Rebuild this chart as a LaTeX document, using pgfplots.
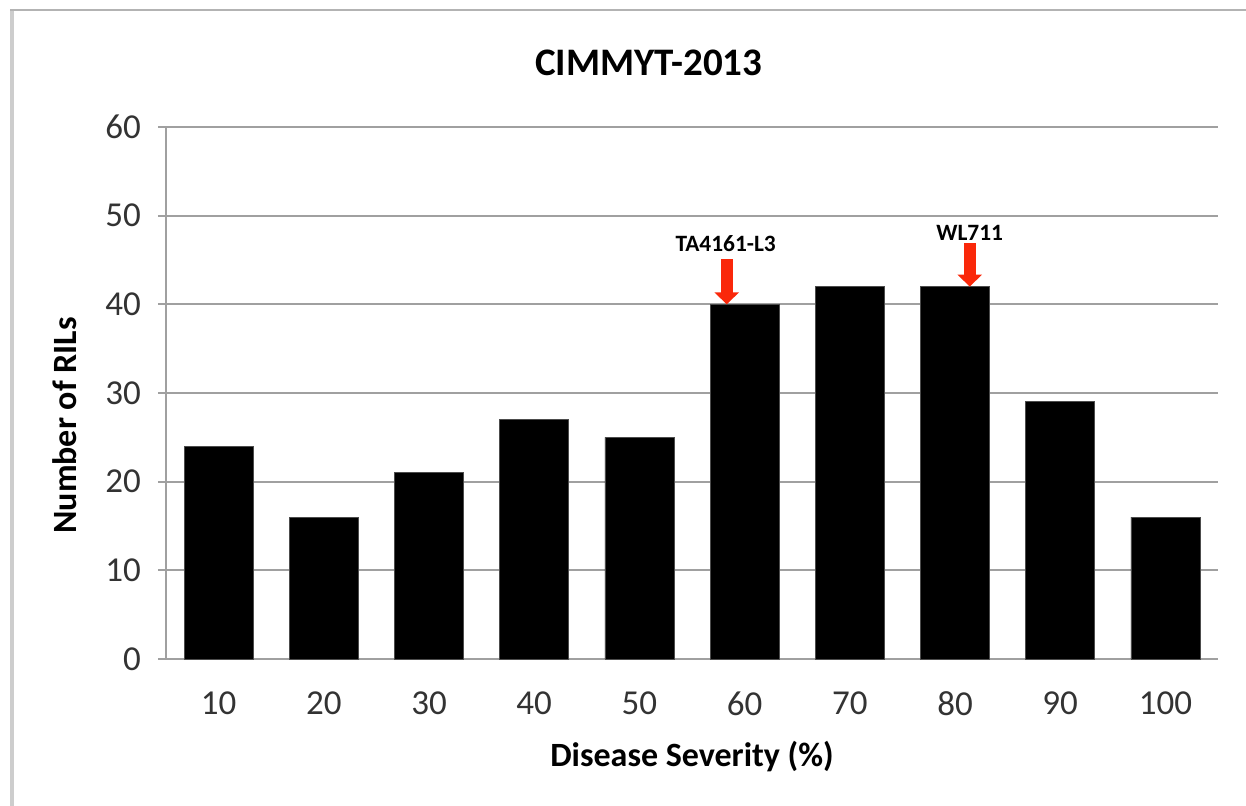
\documentclass[border=0pt]{standalone}
\usepackage{fontspec}
\setmainfont{Carlito}
\usepackage{pgfplots}
\pgfplotsset{compat=1.18}
\usetikzlibrary{arrows.meta}

\definecolor{gridgray}{RGB}{160,160,160}
\definecolor{framegray}{RGB}{205,205,205}
\definecolor{arrowred}{RGB}{250,40,10}

\begin{document}
\begin{tikzpicture}
\useasboundingbox (0,0) rectangle (623pt,403pt);
% outer frame (left and top edges only)
\draw[framegray, line width=2pt] (6pt,0) -- (6pt,398pt);
\draw[gridgray!80, line width=1.2pt] (5pt,398pt) -- (623pt,398pt);

\begin{axis}[
    at={(83pt,73.5pt)}, anchor=south west,
    scale only axis,
    width=526pt, height=266pt,
    xmin=0.5, xmax=10.5,
    ymin=0, ymax=60,
    axis x line*=bottom, axis y line*=left,
    axis line style={gridgray, line width=1pt},
    ybar, bar width=34.5pt,
    xtick={1,...,10},
    xticklabels={10,20,30,40,50,60,70,80,90,100},
    xtick style={draw=none},
    minor xtick={0.5,1.5,...,10.5},
    ytick={0,10,...,60},
    tick align=outside,
    major tick length=4pt, minor tick length=4pt,
    tick style={gridgray, line width=1pt},
    ymajorgrids,
    grid style={gridgray, line width=1pt},
    /pgf/number format/assume math mode=true,
    tick label style={font=\fontsize{17.5}{20}\selectfont, text=black!80},
    yticklabel style={xshift=-5pt},
    xticklabel style={yshift=-9pt},
    title={CIMMYT-2013},
    title style={font=\fontsize{19.5}{22}\selectfont\bfseries, anchor=base,
        at={(axis description cs:0.459,1.075)}},
    xlabel={Disease Severity (\%)},
    xlabel style={font=\fontsize{17}{20}\selectfont\bfseries, anchor=base,
        at={(axis description cs:0.500,-0.203)}},
    ylabel={Number of RILs},
    ylabel style={font=\fontsize{17}{20}\selectfont\bfseries, anchor=center,
        at={(axis description cs:-0.096,0.439)}},
    clip=false,
]
\addplot[fill=black, draw=black!70] coordinates {
(1,24) (2,16) (3,21) (4,27) (5,25) (6,40) (7,42) (8,42) (9,29) (10,16)
};
\draw[arrowred, line width=6pt, -{Triangle[width=12pt,length=6pt]}]
  (axis cs:5.83,45.1) -- (axis cs:5.83,40.0);
\draw[arrowred, line width=6pt, -{Triangle[width=12pt,length=6pt]}]
  (axis cs:8.14,46.9) -- (axis cs:8.14,42.0);
\node[font=\fontsize{11.7}{14}\selectfont\bfseries] at (axis cs:5.82,46.8) {TA4161-L3};
\node[font=\fontsize{11.7}{14}\selectfont\bfseries] at (axis cs:8.14,48.0) {WL711};
\end{axis}
\end{tikzpicture}
\end{document}
